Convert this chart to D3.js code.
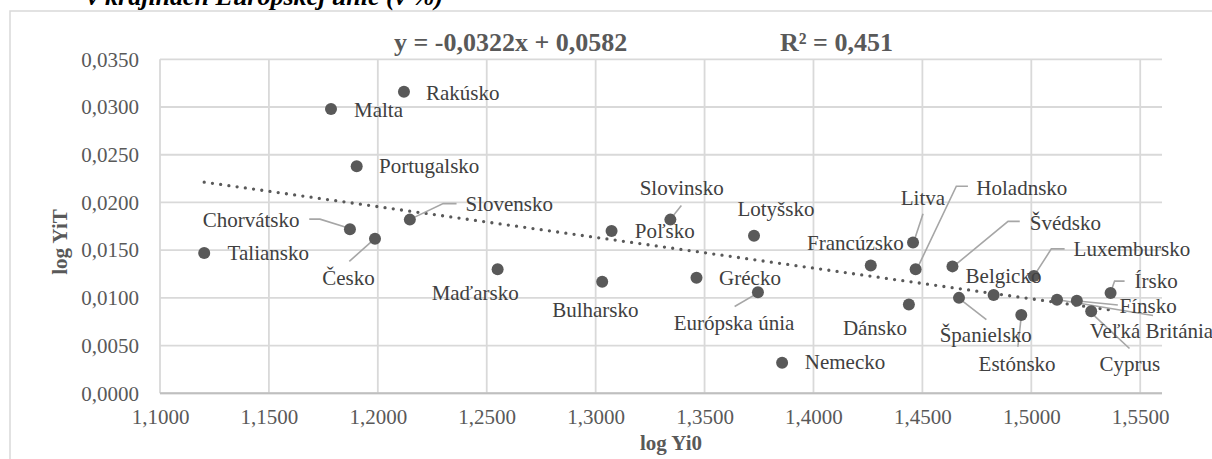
<!DOCTYPE html>
<html>
<head>
<meta charset="utf-8">
<script src="https://cdn.jsdelivr.net/npm/d3@7"></script>
<style>
  html, body { margin: 0; padding: 0; background: #fff; overflow: hidden; }
  svg { display: block; font-family: "Liberation Serif", "Times New Roman", serif; }
</style>
</head>
<body>
<svg id="chart" width="1212" height="459"></svg>
<script>
// ---------- DATA ----------
const countries = ["Taliansko","Chorvátsko","Česko","Slovensko","Malta","Rakúsko","Portugalsko",
  "Maďarsko","Bulharsko","Poľsko","Slovinsko","Grécko","Lotyšsko","Európska únia","Nemecko",
  "Francúzsko","Litva","Holadnsko","Švédsko","Luxembursko","Írsko","Dánsko","Španielsko",
  "Belgicko","Estónsko","Veľká Británia","Fínsko","Cyprus"];
const logYi0 = [1.1203,1.1872,1.1987,1.2147,1.1785,1.2120,1.1903,
  1.2550,1.3030,1.3073,1.3343,1.3463,1.3727,1.3745,1.3856,
  1.4263,1.4457,1.4469,1.4638,1.5012,1.5364,1.4438,1.4668,
  1.4827,1.4954,1.5118,1.5209,1.5275];
const logYiT = [0.0147,0.0172,0.0162,0.0182,0.0298,0.0316,0.0238,
  0.0130,0.0117,0.0170,0.0182,0.0121,0.0165,0.0106,0.0032,
  0.0134,0.0158,0.0130,0.0133,0.0123,0.0105,0.0093,0.0100,
  0.0103,0.0082,0.0098,0.0097,0.0086];
const xTicks = [1.10,1.15,1.20,1.25,1.30,1.35,1.40,1.45,1.50,1.55];
const yTicks = [0,0.005,0.010,0.015,0.020,0.025,0.030,0.035];
const slope = -0.0322, intercept = 0.0582, rSquared = "0,451";
const equationText = "y = -0,0322x + 0,0582";
const titleText = "v krajinách Európskej únie (v %)";
const xTitle = "log Yi0", yTitle = "log YiT";

// ---------- LABEL LAYOUT (pixel offsets from point centre) ----------
const labelLayout = {
  "Taliansko":   {dx:23.4, dy:7.4},
  "Malta":       {dx:23, dy:8},
  "Rakúsko":     {dx:22, dy:8},
  "Portugalsko": {dx:22.3, dy:7.3},
  "Chorvátsko":  {dx:-147.3, dy:-2.3, leader:[[-40.7,-10],[-30,-10],[-4,-2]]},
  "Česko":       {dx:-52.7, dy:46, leader:[[-25.7,22.7],[-3.3,2.7]]},
  "Slovensko":   {dx:55.7, dy:-8.3, leader:[[1.7,-1],[33.3,-16],[46.7,-16]]},
  "Maďarsko":    {dx:-66, dy:30.3},
  "Bulharsko":   {dx:-50, dy:35.6},
  "Poľsko":      {dx:23.3, dy:7},
  "Slovinsko":   {dx:-30.7, dy:-24.3, leader:[[1,-1.7],[11,-14]]},
  "Grécko":      {dx:22.6, dy:6.7},
  "Lotyšsko":    {dx:-16.6, dy:-20},
  "Európska únia":{dx:-84.3, dy:37.7, leader:[[-23.3,14.4],[-3.3,2.7]]},
  "Nemecko":     {dx:22.7, dy:6},
  "Francúzsko":  {dx:-63.7, dy:-15.7},
  "Litva":       {dx:-12.3, dy:-37.7, leader:[[10,-28.7],[1.7,-3.4]]},
  "Holadnsko":   {dx:60.7, dy:-74.7, leader:[[2.3,-2.3],[40.7,-83],[52.3,-83]]},
  "Švédsko":     {dx:77.3, dy:-36, leader:[[2.3,-1],[55.6,-45],[67.3,-45]]},
  "Luxembursko": {dx:39.7, dy:-20, leader:[[0.7,-1],[17.4,-27],[30.7,-27]]},
  "Írsko":       {dx:24, dy:-5.4, leader:[[0.7,-2.7],[4,-12],[14,-12]]},
  "Belgicko":    {dx:-28, dy:-11.7},
  "Dánsko":      {dx:-66, dy:30},
  "Španielsko":  {dx:-19.3, dy:44.4, leader:[[0.7,1],[27.4,21.7]]},
  "Estónsko":    {dx:-42.7, dy:55.7, leader:[[0,1],[-3.4,31.7]]},
  "Cyprus":      {dx:8.3, dy:60, leader:[[0,1.6],[38.3,37.3]]},
  "Fínsko":      {dx:42.7, dy:12.6, leader:[[1,0.3],[41,4.3]]},
  "Veľká Británia":{dx:32.7, dy:38.3, leader:[[1,0],[96,15.7]]}
};

// ---------- CHART ----------
const svg = d3.select("#chart");
const plot = {left:160, right:1162, top:59.3, bottom:393.3};
const x = d3.scaleLinear().domain([1.10, 1.56]).range([plot.left, plot.right]);
const y = d3.scaleLinear().domain([0, 0.035]).range([plot.bottom, plot.top]);
const fmt = v => d3.format(".4f")(v).replace(".", ",");
const textCol = "#595959";
const serif = "Liberation Serif";

// outer chart border (only top & left visible)
svg.append("rect").attr("x",10).attr("y",11).attr("width",1250).attr("height",500)
  .attr("fill","none").attr("stroke","#d9d9d9").attr("stroke-width",1.5);

// cut title
svg.append("text").attr("x",87).attr("y",5).attr("font-size",26).attr("font-weight","bold")
  .attr("font-style","italic").attr("fill","#000").attr("font-family",serif).text(titleText);

// gridlines
svg.append("g").selectAll("line").data(yTicks).join("line")
  .attr("x1",plot.left).attr("x2",plot.right).attr("y1",d=>y(d)).attr("y2",d=>y(d))
  .attr("stroke","#d9d9d9").attr("stroke-width",1.8);
svg.append("g").selectAll("line").data(xTicks).join("line")
  .attr("x1",d=>x(d)).attr("x2",d=>x(d)).attr("y1",plot.top).attr("y2",plot.bottom)
  .attr("stroke","#d9d9d9").attr("stroke-width",1.8);
// x axis line
svg.append("line").attr("x1",plot.left).attr("x2",plot.right).attr("y1",plot.bottom).attr("y2",plot.bottom)
  .attr("stroke","#bfbfbf").attr("stroke-width",2);

// axes via d3
const xAxis = d3.axisBottom(x).tickValues(xTicks).tickFormat(fmt).tickSize(0).tickPadding(16);
const gx = svg.append("g").attr("transform",`translate(0,${plot.bottom})`).call(xAxis);
gx.attr("font-family",serif);
gx.select(".domain").remove();
gx.selectAll("text").attr("font-size",21).attr("fill",textCol).attr("font-family",serif);

const yAxis = d3.axisLeft(y).tickValues(yTicks).tickFormat(fmt).tickSize(0).tickPadding(21);
const gy = svg.append("g").attr("transform",`translate(${plot.left},0)`).call(yAxis);
gy.attr("font-family",serif);
gy.select(".domain").remove();
gy.selectAll("text").attr("font-size",21).attr("fill",textCol).attr("font-family",serif);

// axis titles
svg.append("text").attr("x",671).attr("y",450).attr("text-anchor","middle").attr("font-family",serif)
  .attr("font-size",21).attr("font-weight","bold").attr("fill",textCol).text(xTitle);
svg.append("text").attr("transform","translate(67,242) rotate(-90)").attr("text-anchor","middle")
  .attr("font-family",serif)
  .attr("font-size",21).attr("font-weight","bold").attr("fill",textCol).text(yTitle);

// trendline
const xMin = d3.min(logYi0), xMax = d3.max(logYi0);
svg.append("line")
  .attr("x1",x(xMin)).attr("y1",y(slope*xMin+intercept))
  .attr("x2",x(xMax)).attr("y2",y(slope*xMax+intercept))
  .attr("stroke","#595959").attr("stroke-width",3.3).attr("stroke-linecap","round")
  .attr("stroke-dasharray","0 8.3");

// data
const data = countries.map((c,i)=>({name:c, x:logYi0[i], y:logYiT[i]}));

// leader lines
const line = d3.line();
svg.append("g").selectAll("path").data(data.filter(d=>labelLayout[d.name] && labelLayout[d.name].leader)).join("path")
  .attr("d",d=>{const px=x(d.x), py=y(d.y); return line(labelLayout[d.name].leader.map(p=>[px+p[0],py+p[1]]));})
  .attr("fill","none").attr("stroke","#a6a6a6").attr("stroke-width",1.6);

// points
svg.append("g").selectAll("circle").data(data).join("circle")
  .attr("cx",d=>x(d.x)).attr("cy",d=>y(d.y)).attr("r",6).attr("fill","#595959");

// labels
svg.append("g").selectAll("text").data(data).join("text")
  .attr("x",d=>x(d.x)+labelLayout[d.name].dx).attr("y",d=>y(d.y)+labelLayout[d.name].dy)
  .attr("font-family",serif)
  .attr("font-size",21).attr("fill","#404040").text(d=>d.name);

// equation
svg.append("text").attr("x",394).attr("y",51).attr("font-size",26).attr("font-weight","bold")
  .attr("font-family",serif).attr("fill",textCol).text(equationText);
svg.append("text").attr("x",780).attr("y",51).attr("font-size",26).attr("font-weight","bold")
  .attr("font-family",serif).attr("fill",textCol).text("R² = " + rSquared);
</script>
</body>
</html>
